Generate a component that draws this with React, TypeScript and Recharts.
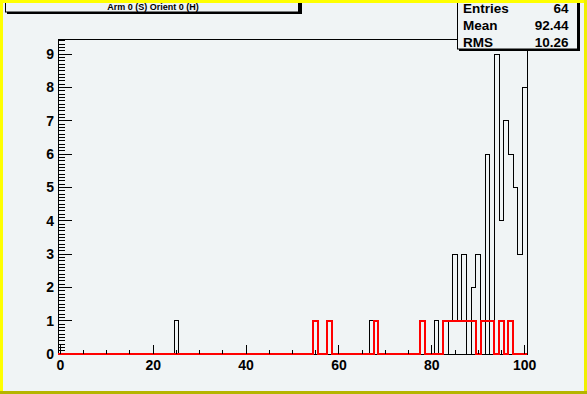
import React from "react"
import { LineChart, Line, XAxis, YAxis, ReferenceArea } from "recharts"

// black histogram: bin centre -> entries
const blackBins = [25, 67, 81, 84, 85, 86, 87, 89, 90, 92, 94, 95, 96, 97, 98, 99, 100]
const blackCounts = [1, 1, 1, 1, 3, 1, 3, 2, 3, 6, 9, 4, 7, 6, 5, 3, 8]

// red histogram
const redBins = [55, 58, 68, 78, 83, 84, 85, 86, 87, 88, 89, 91, 92, 93, 95, 97]
const redCounts = [1, 1, 1, 1, 1, 1, 1, 1, 1, 1, 1, 1, 1, 1, 1, 1]

const xMajorTicks = [0, 20, 40, 60, 80, 100]
const xMinorTicks = [5, 10, 15, 25, 30, 35, 45, 50, 55, 65, 70, 75, 85, 90, 95]
const yMajorTicks = [0, 1, 2, 3, 4, 5, 6, 7, 8, 9]

const titleText = "Arm 0 (S) Orient 0 (H)"
const statsLabels = ["Entries", "Mean", "RMS"]
const statsValues = ["64", "92.44", "10.26"]

const Y_MAX = 9.45
const BG = "#f0f4f5"
const FONT = "'Liberation Sans', Arial, Helvetica, sans-serif"

// 101 unit bins centred on 0..100, drawn as step outlines from the bin edges
const nBins = 101
const rows: { x: number; black: number; red: number }[] = []
for (let n = 0; n < nBins; n++) {
  const bi = blackBins.indexOf(n)
  const ri = redBins.indexOf(n)
  rows.push({ x: n - 0.5, black: bi >= 0 ? blackCounts[bi] : 0, red: ri >= 0 ? redCounts[ri] : 0 })
}
rows.push({ x: 100.5, black: 0, red: 0 })

const xTicks = [...xMajorTicks, ...xMinorTicks].sort((a, b) => a - b)
const yTicks: number[] = []
for (let i = 0; i <= 94; i++) yTicks.push(i / 10)

const XTick = (props: any) => {
  const { x, y, payload } = props
  const v = payload.value
  const major = xMajorTicks.includes(v)
  return (
    <g>
      <line x1={x} x2={x} y1={y} y2={y - (major ? 9 : 4.5)} stroke="#000" shapeRendering="crispEdges" />
      {major && (
        <text x={x} y={y + 16} textAnchor="middle" fontSize={14} fontWeight="bold" fontFamily={FONT} fill="#000">
          {v}
        </text>
      )}
    </g>
  )
}

const YTick = (props: any) => {
  const { x, y, payload } = props
  const v = payload.value
  const major = yMajorTicks.some((t) => Math.abs(t - v) < 1e-6)
  return (
    <g>
      {/* the zero tick sits under the red baseline in the original */}
      {v > 0 && <line x1={x} x2={x + (major ? 14 : 7)} y1={y} y2={y} stroke="#000" shapeRendering="crispEdges" />}
      {major && (
        <text x={x - 4} y={y + 5} textAnchor="end" fontSize={14} fontWeight="bold" fontFamily={FONT} fill="#000">
          {Math.round(v)}
        </text>
      )}
    </g>
  )
}

export default function App() {
  return (
    <div style={{ position: "absolute", left: 0, top: 0, width: 587, height: 394, background: BG, overflow: "hidden" }}>
      <LineChart
        width={587}
        height={394}
        data={rows}
        margin={{ top: 39, right: 60, left: 0, bottom: 0 }}
        style={{ position: "absolute", left: 0, top: 0 }}
      >
        <XAxis
          type="number"
          dataKey="x"
          domain={[-0.5, 100.5]}
          ticks={xTicks}
          interval={0}
          height={40}
          tickSize={0}
          tickMargin={0}
          tickLine={false}
          axisLine={false}
          tick={<XTick />}
        />
        <YAxis
          type="number"
          domain={[0, Y_MAX]}
          ticks={yTicks}
          interval={0}
          width={58}
          tickSize={0}
          tickMargin={0}
          tickLine={false}
          axisLine={false}
          tick={<YTick />}
        />
        <ReferenceArea x1={-0.5} x2={100.5} y1={0} y2={Y_MAX} fill="none" stroke="#000" strokeWidth={1} ifOverflow="visible" shapeRendering="crispEdges" />
        <Line type="stepAfter" dataKey="black" stroke="#000" strokeWidth={1} dot={false} isAnimationActive={false} shapeRendering="crispEdges" />
        <Line type="stepAfter" dataKey="red" stroke="#ff0000" strokeWidth={2} dot={false} isAnimationActive={false} shapeRendering="crispEdges" />
      </LineChart>

      <svg width={587} height={394} style={{ position: "absolute", left: 0, top: 0, pointerEvents: "none" }}>
        {/* title box */}
        <rect x={7} y={-8} width={295} height={22} fill="#000" />
        <rect x={5.5} y={-10.5} width={293} height={22.5} fill={BG} stroke="#000" strokeWidth={1} />
        <text x={153} y={10} textAnchor="middle" fontSize={9} fontWeight="bold" fontFamily={FONT} fill="#000">
          {titleText}
        </text>

        {/* stats box */}
        <rect x={459} y={-8} width={121} height={59} fill="#000" />
        <rect x={457.5} y={-10.5} width={120} height={59.5} fill={BG} stroke="#000" strokeWidth={1} />
        {statsLabels.map((l, i) => (
          <g key={l}>
            <text x={463} y={12.5 + i * 17} fontSize={13.5} fontWeight="bold" fontFamily={FONT} fill="#000">
              {l}
            </text>
            <text x={568.5} y={12.5 + i * 17} textAnchor="end" fontSize={13.5} fontWeight="bold" fontFamily={FONT} fill="#000">
              {statsValues[i]}
            </text>
          </g>
        ))}

        {/* canvas bevel border */}
        <rect x={0} y={0} width={587} height={3} fill="#ffff00" />
        <rect x={0} y={0} width={3} height={394} fill="#ffff00" />
        <rect x={584} y={0} width={3} height={394} fill="#f0f000" />
        <rect x={0} y={391} width={587} height={3} fill="#b5b500" />
      </svg>
    </div>
  )
}
